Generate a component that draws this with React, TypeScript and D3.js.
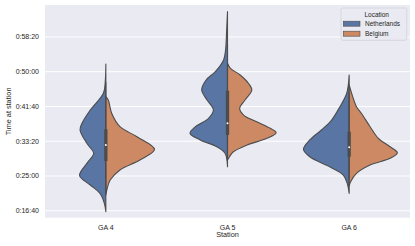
import * as d3 from "d3";

const stations = ["GA 4", "GA 5", "GA 6"];
const locations = ["Netherlands", "Belgium"];
const yTicks = [1000, 1500, 2000, 2500, 3000, 3500];

// density profiles: [seconds, relative density]
const ga4Netherlands: [number, number][] = [
  [3111, 0], [2881, 0.01], [2690, 0.05], [2449, 0.32], [2258, 0.49], [2162, 0.53],
  [1970, 0.39], [1826, 0.25], [1682, 0.39], [1507, 0.54], [1370, 0.32],
  [1250, 0.12], [1107, 0.03], [986, 0],
];
const ga4Belgium: [number, number][] = [
  [2641, 0], [2593, 0.05], [2402, 0.12], [2209, 0.29], [2065, 0.64], [1884, 1.0],
  [1730, 0.7], [1586, 0.29], [1442, 0.09], [1298, 0.02], [1226, 0],
];
const ga5Netherlands: [number, number][] = [
  [3864, 0], [3553, 0.02], [3313, 0.04], [3169, 0.08], [3001, 0.25], [2881, 0.44],
  [2737, 0.53], [2593, 0.42], [2449, 0.29], [2330, 0.39], [2209, 0.66],
  [2114, 0.77], [2018, 0.56], [1921, 0.22], [1826, 0.05], [1633, 0],
];
const ga5Belgium: [number, number][] = [
  [3122, 0], [3050, 0.06], [2953, 0.26], [2834, 0.43], [2737, 0.5], [2593, 0.36],
  [2474, 0.25], [2377, 0.33], [2281, 0.6], [2186, 0.88], [2123, 1.0],
  [2042, 0.81], [1946, 0.4], [1849, 0.12], [1777, 0.04], [1730, 0],
];
const ga6Netherlands: [number, number][] = [
  [2953, 0], [2690, 0.05], [2497, 0.19], [2305, 0.36], [2162, 0.57], [2018, 0.81],
  [1884, 0.94], [1777, 0.81], [1633, 0.4], [1514, 0.12], [1394, 0.04], [1250, 0],
];
const ga6Belgium: [number, number][] = [
  [2809, 0], [2690, 0.05], [2497, 0.15], [2402, 0.25], [2209, 0.43], [2042, 0.6],
  [1921, 0.84], [1835, 0.99], [1754, 0.84], [1658, 0.43], [1538, 0.15],
  [1417, 0.03], [1356, 0],
];

// inner box: [whiskerLow, q1, median, q3, whiskerHigh]
const boxStats: [number, number, number, number, number][] = [
  [1250, 1715, 1946, 2172, 2850],
  [1750, 2090, 2258, 2727, 3400],
  [1450, 1777, 1913, 2137, 2700],
];

const densities = [
  [ga4Netherlands, ga4Belgium],
  [ga5Netherlands, ga5Belgium],
  [ga6Netherlands, ga6Belgium],
];

const COLORS = ["#5875a4", "#cc8963"];
const GRAY = "#4c4c4c";
const FONT = "'Liberation Sans', Arial, sans-serif";

const WIDTH = 415;
const HEIGHT = 246;
const MARGIN = { top: 5, right: 5, bottom: 28.3, left: 45 };

function fmtTime(s: number) {
  const h = Math.floor(s / 3600);
  const m = Math.floor((s % 3600) / 60);
  const sec = Math.round(s % 60);
  return `${h}:${String(m).padStart(2, "0")}:${String(sec).padStart(2, "0")}`;
}

export default function App() {
  const w = WIDTH - MARGIN.left - MARGIN.right;
  const h = HEIGHT - MARGIN.top - MARGIN.bottom;

  const x = d3.scaleBand().domain(stations).range([0, w]);
  const y = d3.scaleLinear().domain([900, 3960]).range([h, 0]);
  const maxHalf = x.bandwidth() * 0.4;

  const halfPath = (data: [number, number][], cx: number, side: number) =>
    d3
      .area<[number, number]>()
      .y((d) => y(d[0]))
      .x0(cx)
      .x1((d) => cx + side * d[1] * maxHalf)
      .curve(d3.curveCatmullRom.alpha(0.5))(data) ?? "";

  return (
    <svg
      width={WIDTH}
      height={HEIGHT}
      style={{ position: "absolute", left: 0, top: 0, background: "#fff" }}
      fontFamily={FONT}
    >
      <g transform={`translate(${MARGIN.left},${MARGIN.top})`}>
        <rect width={w} height={h} fill="#eaeaf2" />
        {yTicks.map((t) => (
          <g key={t}>
            <line x1={0} x2={w} y1={y(t)} y2={y(t)} stroke="#fff" strokeWidth={1} />
            <text x={-6} y={y(t)} dy="0.35em" textAnchor="end" fontSize={7} fill="#262626">
              {fmtTime(t)}
            </text>
          </g>
        ))}

        {stations.map((s, i) => {
          const cx = (x(s) ?? 0) + x.bandwidth() / 2;
          const [wl, q1, med, q3, wh] = boxStats[i];
          return (
            <g key={s}>
              {densities[i].map((dd, j) => (
                <path
                  key={j}
                  d={halfPath(dd, cx, j === 0 ? -1 : 1)}
                  fill={COLORS[j]}
                  stroke={GRAY}
                  strokeWidth={1.1}
                  strokeLinejoin="round"
                />
              ))}
              <line x1={cx} x2={cx} y1={y(wl)} y2={y(wh)} stroke={GRAY} strokeWidth={1.1} />
              <line x1={cx} x2={cx} y1={y(q1)} y2={y(q3)} stroke={GRAY} strokeWidth={3.3} />
              <circle cx={cx} cy={y(med)} r={1} fill="#fff" />
              <text x={cx} y={h + 11.8} textAnchor="middle" fontSize={7} fill="#262626">
                {s}
              </text>
            </g>
          );
        })}

        <text x={w / 2} y={h + 19.3} textAnchor="middle" fontSize={7.3} fill="#262626">
          Station
        </text>
        <text
          transform={`translate(${8 - MARGIN.left + 2.5},${h / 2}) rotate(-90)`}
          textAnchor="middle"
          fontSize={7.3}
          fill="#262626"
        >
          Time at station
        </text>

        {/* legend */}
        <g transform={`translate(${w - 69},3)`}>
          <rect width={65.7} height={32.3} rx={1.5} fill="#eaeaf2" stroke="#d2d2d8" strokeWidth={0.8} />
          <text x={35.7} y={8.5} textAnchor="middle" fontSize={6.5} fill="#262626">
            Location
          </text>
          {locations.map((loc, j) => (
            <g key={loc} transform={`translate(2.3,${15.7 + j * 10})`}>
              <rect y={-2.5} width={16.7} height={5} fill={COLORS[j]} stroke={GRAY} strokeWidth={0.6} />
              <text x={21.7} y={0} dy="0.35em" fontSize={6.5} fill="#262626">
                {loc}
              </text>
            </g>
          ))}
        </g>
      </g>
    </svg>
  );
}
